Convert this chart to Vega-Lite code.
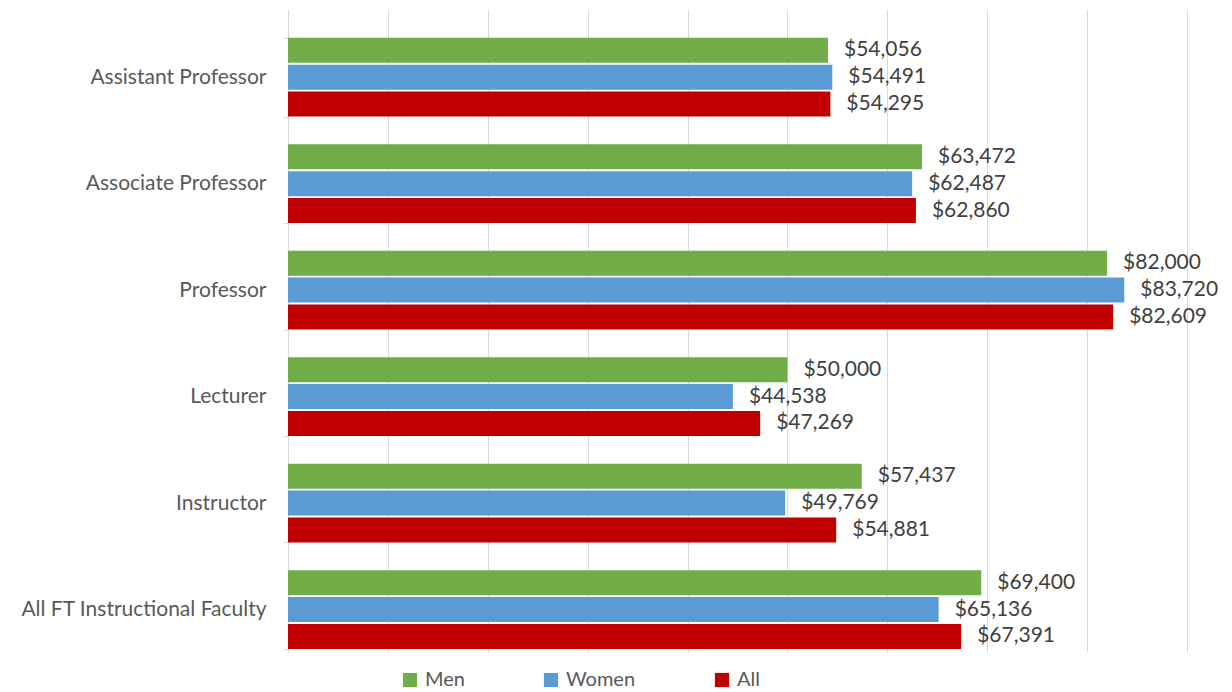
{
  "$schema": "https://vega.github.io/schema/vega-lite/v6.json",
  "width": 899,
  "height": 642,
  "autosize": {"type": "none"},
  "padding": {"left": 288, "top": 10, "right": 45, "bottom": 40},
  "background": "white",
  "config": {
    "view": {"stroke": null},
    "font": "Lato"
  },
  "data": {
    "values": [
      {"rank": "Assistant Professor", "group": "Men", "salary": 54056},
      {"rank": "Assistant Professor", "group": "Women", "salary": 54491},
      {"rank": "Assistant Professor", "group": "All", "salary": 54295},
      {"rank": "Associate Professor", "group": "Men", "salary": 63472},
      {"rank": "Associate Professor", "group": "Women", "salary": 62487},
      {"rank": "Associate Professor", "group": "All", "salary": 62860},
      {"rank": "Professor", "group": "Men", "salary": 82000},
      {"rank": "Professor", "group": "Women", "salary": 83720},
      {"rank": "Professor", "group": "All", "salary": 82609},
      {"rank": "Lecturer", "group": "Men", "salary": 50000},
      {"rank": "Lecturer", "group": "Women", "salary": 44538},
      {"rank": "Lecturer", "group": "All", "salary": 47269},
      {"rank": "Instructor", "group": "Men", "salary": 57437},
      {"rank": "Instructor", "group": "Women", "salary": 49769},
      {"rank": "Instructor", "group": "All", "salary": 54881},
      {"rank": "All FT Instructional Faculty", "group": "Men", "salary": 69400},
      {"rank": "All FT Instructional Faculty", "group": "Women", "salary": 65136},
      {"rank": "All FT Instructional Faculty", "group": "All", "salary": 67391}
    ]
  },
  "encoding": {
    "y": {
      "field": "rank",
      "type": "nominal",
      "sort": null,
      "scale": {"paddingInner": 0.26, "paddingOuter": 0.145, "align": 0.9},
      "axis": {
        "title": null,
        "labelFontSize": 21,
        "labelColor": "#595959",
        "labelPadding": 17,
        "labelLimit": 300,
        "tickColor": "#d9d9d9",
        "tickSize": 5,
        "domainColor": "#d9d9d9",
        "tickBand": "extent"
      }
    },
    "yOffset": {
      "field": "group",
      "type": "nominal",
      "sort": ["Men", "Women", "All"],
      "scale": {"paddingInner": 0.07}
    },
    "x": {
      "field": "salary",
      "type": "quantitative",
      "scale": {"domain": [0, 90000], "nice": false},
      "axis": {
        "title": null,
        "labels": false,
        "ticks": false,
        "domain": false,
        "grid": true,
        "gridColor": "#d9d9d9",
        "values": [0, 10000, 20000, 30000, 40000, 50000, 60000, 70000, 80000, 90000]
      }
    }
  },
  "layer": [
    {
      "mark": {"type": "bar"},
      "encoding": {
        "color": {
          "field": "group",
          "type": "nominal",
          "sort": ["Men", "Women", "All"],
          "scale": {"domain": ["Men", "Women", "All"], "range": ["#70ad47", "#5b9bd5", "#c00000"]},
          "legend": {
            "title": null,
            "orient": "none",
            "direction": "horizontal",
            "legendX": 112,
            "legendY": 660,
            "symbolType": "square",
            "symbolSize": 200,
            "symbolStrokeWidth": 0,
            "labelFontSize": 20,
            "labelColor": "#595959",
            "columnPadding": 76,
            "labelOffset": 5
          }
        }
      }
    },
    {
      "mark": {"type": "text", "align": "left", "baseline": "middle", "dx": 16, "fontSize": 21, "color": "#404040"},
      "encoding": {
        "text": {"field": "salary", "type": "quantitative", "format": "$,.0f"}
      }
    }
  ]
}
